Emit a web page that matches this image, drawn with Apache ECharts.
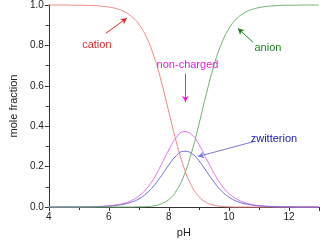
<!DOCTYPE html>
<html>
<head>
<meta charset="utf-8">
<script src="https://cdn.jsdelivr.net/npm/echarts@6/dist/echarts.min.js"></script>
<style>
  html, body { margin: 0; padding: 0; background: #fff; }
  #main { width: 322px; height: 243px; }
</style>
</head>
<body>
<div id="main"></div>
<script>
// values
const pH = [4, 4.25, 4.5, 4.75, 5, 5.25, 5.5, 5.75, 6, 6.25, 6.5, 6.75, 7, 7.25, 7.5, 7.75,
  8, 8.25, 8.5, 8.75, 9, 9.25, 9.5, 9.75, 10, 10.25, 10.5, 10.75, 11, 11.25, 11.5, 11.75,
  12, 12.25, 12.5, 12.75, 13];
const cation = [1, 1, 1, 0.999, 0.999, 0.998, 0.997, 0.994, 0.99, 0.982, 0.968, 0.944, 0.905, 0.841, 0.747, 0.62,
  0.47, 0.321, 0.196, 0.106, 0.052, 0.022, 0.009, 0.003, 0.001, 0, 0, 0, 0, 0, 0, 0,
  0, 0, 0, 0, 0];
const nonCharged = [0, 0, 0, 0, 0.001, 0.001, 0.002, 0.003, 0.006, 0.011, 0.018, 0.032, 0.054, 0.09, 0.142, 0.21,
  0.283, 0.344, 0.373, 0.36, 0.31, 0.239, 0.168, 0.109, 0.067, 0.04, 0.023, 0.013, 0.007, 0.004, 0.002, 0.001,
  0.001, 0, 0, 0, 0];
const zwitterion = [0, 0, 0, 0, 0, 0.001, 0.001, 0.003, 0.004, 0.008, 0.014, 0.024, 0.04, 0.067, 0.105, 0.155,
  0.209, 0.254, 0.276, 0.266, 0.229, 0.177, 0.124, 0.08, 0.049, 0.029, 0.017, 0.01, 0.006, 0.003, 0.002, 0.001,
  0.001, 0, 0, 0, 0];
const anion = [0, 0, 0, 0, 0, 0, 0, 0, 0, 0, 0, 0, 0.001, 0.002, 0.006, 0.016,
  0.037, 0.081, 0.156, 0.267, 0.409, 0.562, 0.7, 0.808, 0.883, 0.931, 0.96, 0.977, 0.987, 0.993, 0.996, 0.998,
  0.999, 0.999, 1, 1, 1];

const font = "'Liberation Sans', Arial, sans-serif";

function pairs(ys) {
  return pH.map((x, i) => [x, ys[i]]);
}

// label + arrow annotation, in data units
function note(text, color, at, from, to, arrowColor) {
  return {
    markPoint: {
      silent: true,
      symbol: 'circle',
      symbolSize: 0,
      label: {
        show: true, position: 'inside', formatter: text,
        color: color, fontSize: 11, fontFamily: font
      },
      data: [{ coord: at }]
    },
    markLine: {
      silent: true,
      symbol: ['none', 'arrow'],
      symbolSize: [5, 6],
      label: { show: false },
      lineStyle: { color: arrowColor, width: 1, type: 'solid' },
      emphasis: { disabled: true },
      data: [[{ coord: from }, { coord: to }]]
    }
  };
}

function line(name, ys, color, extra) {
  return Object.assign({
    name: name,
    type: 'line',
    data: pairs(ys),
    smooth: true,
    showSymbol: false,
    clip: false,
    lineStyle: { color: color, width: 1 },
    itemStyle: { color: color },
    z: 2
  }, extra);
}

const option = {
  animation: false,
  grid: { left: 41, top: 4, right: 0, bottom: 32 },
  xAxis: {
    type: 'value',
    min: 4, max: 13, interval: 2,
    name: 'pH', nameLocation: 'middle', nameGap: 20,
    nameTextStyle: { color: '#222', fontSize: 11, fontFamily: font },
    axisLine: { lineStyle: { color: '#333' } },
    axisTick: { length: 4, lineStyle: { color: '#333' } },
    minorTick: { show: true, splitNumber: 2, length: 3, lineStyle: { color: '#333' } },
    axisLabel: { color: '#222', fontSize: 10, fontFamily: font, margin: 5,
      formatter: v => (v === 13 ? '' : v) },
    splitLine: { show: false }
  },
  yAxis: {
    type: 'value',
    min: 0, max: 1, interval: 0.2,
    name: 'mole fraction', nameLocation: 'middle', nameGap: 29,
    nameTextStyle: { color: '#222', fontSize: 11, fontFamily: font },
    axisLine: { show: true, lineStyle: { color: '#333' } },
    axisTick: { show: true, length: 4, lineStyle: { color: '#333' } },
    minorTick: { show: true, splitNumber: 2, length: 3, lineStyle: { color: '#333' } },
    axisLabel: { color: '#222', fontSize: 10, fontFamily: font, margin: 5,
      formatter: v => v.toFixed(1) },
    splitLine: { show: false }
  },
  series: [
    line('cation', cation, '#f08585',
      note('cation', '#e02828', [5.6, 0.8], [5.9, 0.86], [6.6, 0.935], '#e02828')),
    line('non-charged', nonCharged, '#e070e8',
      note('non-charged', '#e020e0', [8.62, 0.705], [8.55, 0.66], [8.55, 0.52], '#e020e0')),
    line('zwitterion', zwitterion, '#7070d0',
      note('zwitterion', '#2020c0', [11.5, 0.338], [10.83, 0.324], [8.97, 0.25], '#7878e0')),
    line('anion', anion, '#70b070',
      note('anion', '#208020', [11.3, 0.787], [10.8, 0.816], [10.3, 0.884], '#208020'))
  ]
};

const chart = echarts.init(document.getElementById('main'));
chart.setOption(option);
</script>
</body>
</html>
